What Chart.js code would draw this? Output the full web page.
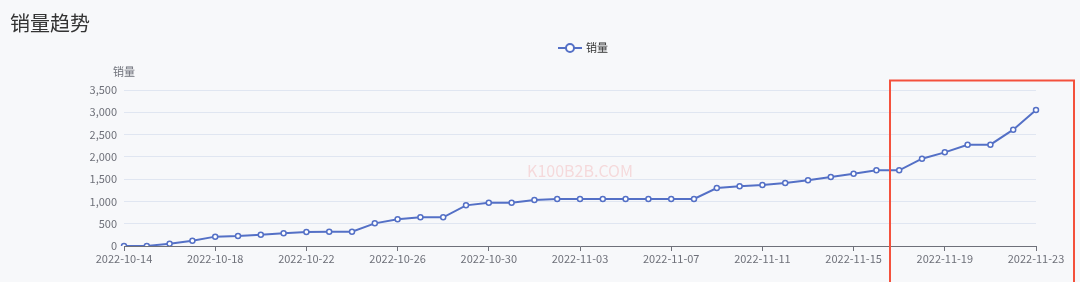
<!DOCTYPE html>
<html>
<head>
<meta charset="utf-8">
<script src="https://cdn.jsdelivr.net/npm/chart.js@4"></script>
<style>
  html, body { margin: 0; padding: 0; background: #f7f8fa; }
  #wrap { width: 1080px; height: 282px; }
</style>
</head>
<body>
<div id="wrap"><canvas id="myChart" width="1080" height="282"></canvas></div>
<script>
var dates = [
    '2022-10-14', '2022-10-15', '2022-10-16', '2022-10-17', '2022-10-18', '2022-10-19', '2022-10-20',
    '2022-10-21', '2022-10-22', '2022-10-23', '2022-10-24', '2022-10-25', '2022-10-26', '2022-10-27',
    '2022-10-28', '2022-10-29', '2022-10-30', '2022-10-31', '2022-11-01', '2022-11-02', '2022-11-03',
    '2022-11-04', '2022-11-05', '2022-11-06', '2022-11-07', '2022-11-08', '2022-11-09', '2022-11-10',
    '2022-11-11', '2022-11-12', '2022-11-13', '2022-11-14', '2022-11-15', '2022-11-16', '2022-11-17',
    '2022-11-18', '2022-11-19', '2022-11-20', '2022-11-21', '2022-11-22', '2022-11-23'
];
var sales = [
    0, 0, 52, 120, 210, 225, 255, 285, 315, 322, 322, 508, 598, 643,
    643, 912, 972, 972, 1032, 1054, 1054, 1054, 1054, 1054, 1054, 1054, 1301, 1342,
    1369, 1413, 1473, 1548, 1622, 1697, 1697, 1959, 2101, 2273, 2273, 2610, 3051
];
var yTicks = [0, 500, 1000, 1500, 2000, 2500, 3000, 3500];
var seriesName = '销量';
var chartTitle = '销量趋势';
var watermark = 'K100B2B.COM';

var lineColor = '#5470c6';
var fontFamily = '"Noto Sans CJK SC", "Noto Sans", sans-serif';

// legend, y axis name, watermark and the red highlight box
var extras = {
    id: 'extras',
    afterDraw: function (chart) {
        var c = chart.ctx;
        var area = chart.chartArea;
        c.save();

        // legend
        var lx = 580, ly = 48;
        c.strokeStyle = lineColor;
        c.lineWidth = 2;
        c.beginPath();
        c.moveTo(lx - 22, ly);
        c.lineTo(lx + 2, ly);
        c.stroke();
        c.beginPath();
        c.arc(lx - 10, ly, 4, 0, Math.PI * 2);
        c.fillStyle = '#fff';
        c.fill();
        c.stroke();
        c.fillStyle = '#333';
        c.font = '11px ' + fontFamily;
        c.textBaseline = 'middle';
        c.textAlign = 'left';
        c.fillText(chart.data.datasets[0].label, lx + 6, ly);

        // y axis name
        c.fillStyle = '#6e7079';
        c.textAlign = 'center';
        c.fillText(seriesName, area.left, area.top - 18);

        // watermark
        c.fillStyle = 'rgba(240, 110, 110, 0.22)';
        c.font = '16px ' + fontFamily;
        c.fillText(watermark, 580, 171);

        // red highlight box
        c.strokeStyle = '#f4513c';
        c.lineWidth = 2;
        c.strokeRect(890, 80.5, 184, 210);
        c.restore();
    }
};

var ctx = document.getElementById('myChart').getContext('2d');
var myChart = new Chart(ctx, {
    type: 'line',
    data: {
        labels: dates,
        datasets: [{
            label: seriesName,
            data: sales,
            borderColor: lineColor,
            borderWidth: 2,
            pointRadius: 2.5,
            pointBorderWidth: 1.5,
            pointBackgroundColor: '#fff',
            pointBorderColor: lineColor,
            tension: 0
        }]
    },
    options: {
        responsive: false,
        animation: false,
        layout: { padding: { left: 10, right: 44, top: 0, bottom: 0 } },
        plugins: {
            legend: { display: false },
            tooltip: { enabled: false },
            title: {
                display: true,
                text: chartTitle,
                align: 'start',
                color: '#333',
                font: { size: 20, weight: 'normal', family: fontFamily },
                padding: { top: 11, bottom: 55 }
            }
        },
        scales: {
            x: {
                offset: false,
                afterFit: function (s) { s.height = 36; },
                border: { color: '#6e7079', width: 1 },
                grid: {
                    drawOnChartArea: false,
                    drawTicks: true,
                    tickLength: 5,
                    color: function (c) { return c.index % 4 === 0 ? '#6e7079' : 'rgba(0,0,0,0)'; }
                },
                ticks: {
                    autoSkip: false,
                    maxRotation: 0,
                    padding: 1,
                    color: '#6e7079',
                    font: { size: 11, family: fontFamily },
                    callback: function (v, i) { return i % 4 === 0 ? dates[i] : ''; }
                }
            },
            y: {
                min: 0,
                max: yTicks[yTicks.length - 1],
                afterFit: function (s) { s.width = 114; },
                afterBuildTicks: function (s) { s.ticks = yTicks.map(function (v) { return { value: v }; }); },
                border: { display: false },
                grid: { color: '#e0e6f1', drawTicks: false },
                ticks: {
                    padding: 7,
                    color: '#6e7079',
                    font: { size: 11, family: fontFamily }
                }
            }
        }
    },
    plugins: [extras]
});
</script>
</body>
</html>
